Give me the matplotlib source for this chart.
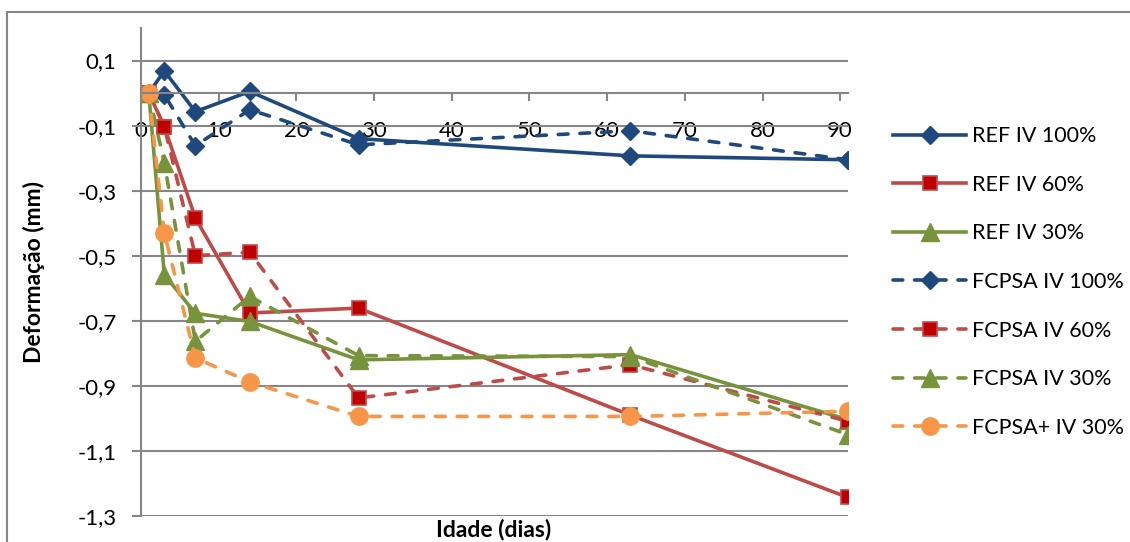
import matplotlib.pyplot as plt
from matplotlib.patches import Rectangle

plt.rcParams['font.family'] = ['Lato', 'DejaVu Sans']

dias = [1, 3, 7, 14, 28, 63, 91]
ref_100 = [0.0, 0.068, -0.057, 0.005, -0.140, -0.193, -0.205]
ref_60 = [0.0, -0.103, -0.384, -0.676, -0.661, -0.990, -1.243]
ref_30 = [0.0, -0.558, -0.677, -0.702, -0.820, -0.804, -1.004]
fcpsa_100 = [0.0, -0.005, -0.162, -0.051, -0.159, -0.116, -0.205]
fcpsa_60 = [0.0, -0.103, -0.500, -0.489, -0.937, -0.835, -1.009]
fcpsa_30 = [0.0, -0.215, -0.763, -0.625, -0.807, -0.810, -1.050]
fcpsa_mais_30 = [0.0, -0.430, -0.814, -0.888, -0.994, -0.994, -0.978]

x_ticks = [0, 10, 20, 30, 40, 50, 60, 70, 80, 90]
y_ticks = [0.1, -0.1, -0.3, -0.5, -0.7, -0.9, -1.1, -1.3]

blue = '#1F497D'
red_line = '#BE4B48'
red_fill = '#C00000'
green = '#77933C'
orange = '#F79646'
grid = '#868686'

fig = plt.figure(figsize=(11.3, 5.42), dpi=100)
ax = fig.add_axes([141 / 1130, 1 - 516 / 542, 707 / 1130, 488 / 542])

lw = 2.6
dash = dict(linestyle=(0, (2.7, 3.3)), dash_capstyle='round')
ax.plot(dias, ref_100, color=blue, lw=lw, marker='D', ms=9, mfc=blue, mec=blue, label='REF IV 100%')
ax.plot(dias, ref_60, color=red_line, lw=lw, marker='s', ms=10.5, mfc=red_fill, mec=red_line, mew=1.2, label='REF IV 60%')
ax.plot(dias, ref_30, color=green, lw=lw, marker='^', ms=12.5, mfc=green, mec=green, label='REF IV 30%')
ax.plot(dias, fcpsa_100, color=blue, lw=lw, marker='D', ms=9, mfc=blue, mec=blue, label='FCPSA IV 100%', **dash)
ax.plot(dias, fcpsa_60, color=red_line, lw=lw, marker='s', ms=10.5, mfc=red_fill, mec=red_line, mew=1.2, label='FCPSA IV 60%', **dash)
ax.plot(dias, fcpsa_30, color=green, lw=lw, marker='^', ms=12.5, mfc=green, mec=green, label='FCPSA IV 30%', **dash)
ax.plot(dias, fcpsa_mais_30, color=orange, lw=lw, marker='o', ms=12.5, mfc=orange, mec=orange, label='FCPSA+ IV 30%', **dash)

ax.set_xlim(0, 91)
ax.set_ylim(-1.3, 0.2)
ax.set_xticks(x_ticks)
ax.set_yticks(y_ticks)
ax.set_yticklabels([f'{v:.1f}'.replace('.', ',') for v in y_ticks])
ax.grid(axis='y', color=grid, lw=1.5)
ax.set_axisbelow(True)

for s in ['top', 'right']:
    ax.spines[s].set_visible(False)
ax.spines['bottom'].set_position(('data', 0))
ax.spines['bottom'].set_color(grid)
ax.spines['bottom'].set_linewidth(1.5)
ax.spines['left'].set_color(grid)
ax.spines['left'].set_linewidth(1.5)
ax.tick_params(axis='x', direction='out', length=6, width=1.5, color=grid, pad=14, labelsize=16)
ax.tick_params(axis='y', direction='out', length=6.5, width=1.5, color=grid, pad=11, labelsize=16)

ax.set_ylabel('Deformação (mm)', fontsize=16.5, fontweight='bold')
ax.yaxis.set_label_coords((45 - 141) / 707, 0.5)
fig.text(494 / 1130, 1 - 529 / 542, 'Idade (dias)', fontsize=16.5, fontweight='bold', ha='center', va='center')

ax.legend(loc='center left', bbox_to_anchor=(893 / 1130, 1 - 282 / 542), bbox_transform=fig.transFigure,
          frameon=False, fontsize=15.5, handlelength=3.4, handletextpad=0.25, labelspacing=1.33,
          borderpad=0, borderaxespad=0)

fig.patches.append(Rectangle((7 / 1130, -0.1), 1.2, 1.1 - 12 / 542, transform=fig.transFigure,
                             fill=False, edgecolor=grid, lw=1.5))

fig.savefig('out.png', dpi=100)
